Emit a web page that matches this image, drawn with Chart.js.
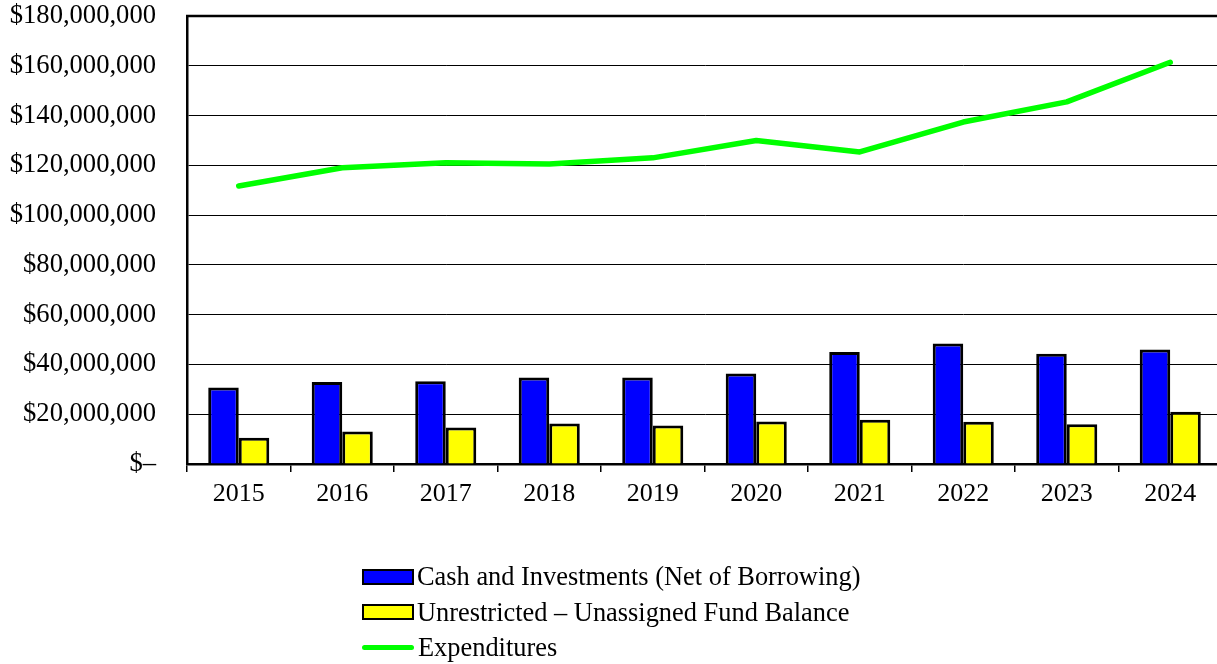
<!DOCTYPE html>
<html>
<head>
<meta charset="utf-8">
<script src="https://cdn.jsdelivr.net/npm/chart.js@4/dist/chart.umd.min.js"></script>
<style>
  html, body { margin: 0; padding: 0; background: #fff; overflow: hidden; }
  #wrap { position: relative; width: 1217px; height: 664px; overflow: hidden; }
  #legend { position: absolute; left: 362px; top: 559px; font-family: "Liberation Serif", "Times New Roman", serif; font-size: 26.4px; color: #000; }
  .item { height: 35.5px; display: flex; align-items: center; white-space: nowrap; }
  .box { width: 48px; height: 12px; border: 2.5px solid #000; margin-right: 3px; }
  .line { width: 52px; height: 5px; border-radius: 3px; margin-right: 4px; }
</style>
</head>
<body>
<div id="wrap">
  <!-- plot runs a few px past the right edge, as in the source -->
  <canvas id="chart" width="1222" height="664"></canvas>
  <div id="legend"></div>
</div>
<script>
// ── data ──
const years = ['2015', '2016', '2017', '2018', '2019', '2020', '2021', '2022', '2023', '2024'];
const cashInvestments = [30700000, 32900000, 33200000, 34800000, 34800000, 36400000, 45000000, 48400000, 44300000, 46000000];
const unassignedBalance = [10500000, 13100000, 14700000, 16300000, 15500000, 17100000, 17800000, 17000000, 16000000, 21000000];
const expenditures = [111700000, 119000000, 121000000, 120500000, 123000000, 130000000, 125400000, 137400000, 145500000, 161400000];

const FONT_FAMILY = '"Liberation Serif", "Times New Roman", serif';

function moneyLabel(v) {
  if (v === 0) return '$\u2013';
  return '$' + v.toLocaleString('en-US');
}

// top border of the plot
const topBorder = {
  id: 'topBorder',
  afterDraw(chart) {
    const { ctx, chartArea } = chart;
    ctx.save();
    ctx.strokeStyle = '#000';
    ctx.lineWidth = 2.5;
    ctx.beginPath();
    ctx.moveTo(chartArea.left - 1, chartArea.top);
    ctx.lineTo(chartArea.right, chartArea.top);
    ctx.stroke();
    ctx.restore();
  }
};

const chart = new Chart(document.getElementById('chart'), {
  data: {
    labels: years,
    datasets: [
      {
        type: 'line',
        label: 'Expenditures',
        data: expenditures,
        borderColor: '#00ff00',
        backgroundColor: '#00ff00',
        borderWidth: 5.5,
        pointRadius: 0,
        tension: 0,
        borderCapStyle: 'round',
        borderJoinStyle: 'round',
        order: 0
      },
      {
        type: 'bar',
        label: 'Cash and Investments (Net of Borrowing)',
        data: cashInvestments,
        backgroundColor: '#0000ff',
        borderColor: '#000',
        borderWidth: 3,
        barPercentage: 1,
        categoryPercentage: 0.59,
        order: 1
      },
      {
        type: 'bar',
        label: 'Unrestricted \u2013 Unassigned Fund Balance',
        data: unassignedBalance,
        backgroundColor: '#ffff00',
        borderColor: '#000',
        borderWidth: 3,
        barPercentage: 1,
        categoryPercentage: 0.59,
        order: 2
      }
    ]
  },
  options: {
    responsive: false,
    animation: false,
    layout: { padding: { top: 16, right: 0, left: 0, bottom: 0 } },
    plugins: {
      legend: { display: false },
      tooltip: { enabled: false }
    },
    scales: {
      x: {
        grid: { offset: true, drawOnChartArea: false, drawTicks: true, tickLength: 8, color: '#000', lineWidth: 1.5 },
        border: { color: '#000', width: 2.5 },
        ticks: { color: '#000', font: { family: FONT_FAMILY, size: 26 }, padding: 7, maxRotation: 0 },
        afterFit(scale) {
          scale.height = 200;
          scale.paddingLeft = 0;
          scale.paddingRight = 0;
        }
      },
      y: {
        min: 0,
        max: 180000000,
        grid: { color: '#000', lineWidth: 1, drawTicks: false },
        border: { color: '#000', width: 2.5 },
        ticks: { stepSize: 20000000, color: '#000', font: { family: FONT_FAMILY, size: 26.6 }, padding: 31, callback: moneyLabel },
        afterFit(scale) {
          scale.width = 187;
          scale.paddingTop = 0;
          scale.paddingBottom = 0;
        }
      }
    }
  },
  plugins: [topBorder]
});

// ── legend ──
const legendEl = document.getElementById('legend');
[1, 2, 0].forEach(i => {
  const ds = chart.data.datasets[i];
  const row = document.createElement('div');
  row.className = 'item';
  const mark = document.createElement('span');
  if (ds.type === 'line') {
    mark.className = 'line';
    mark.style.background = ds.borderColor;
  } else {
    mark.className = 'box';
    mark.style.background = ds.backgroundColor;
  }
  row.appendChild(mark);
  row.appendChild(document.createTextNode(ds.label));
  legendEl.appendChild(row);
});
</script>
</body>
</html>
